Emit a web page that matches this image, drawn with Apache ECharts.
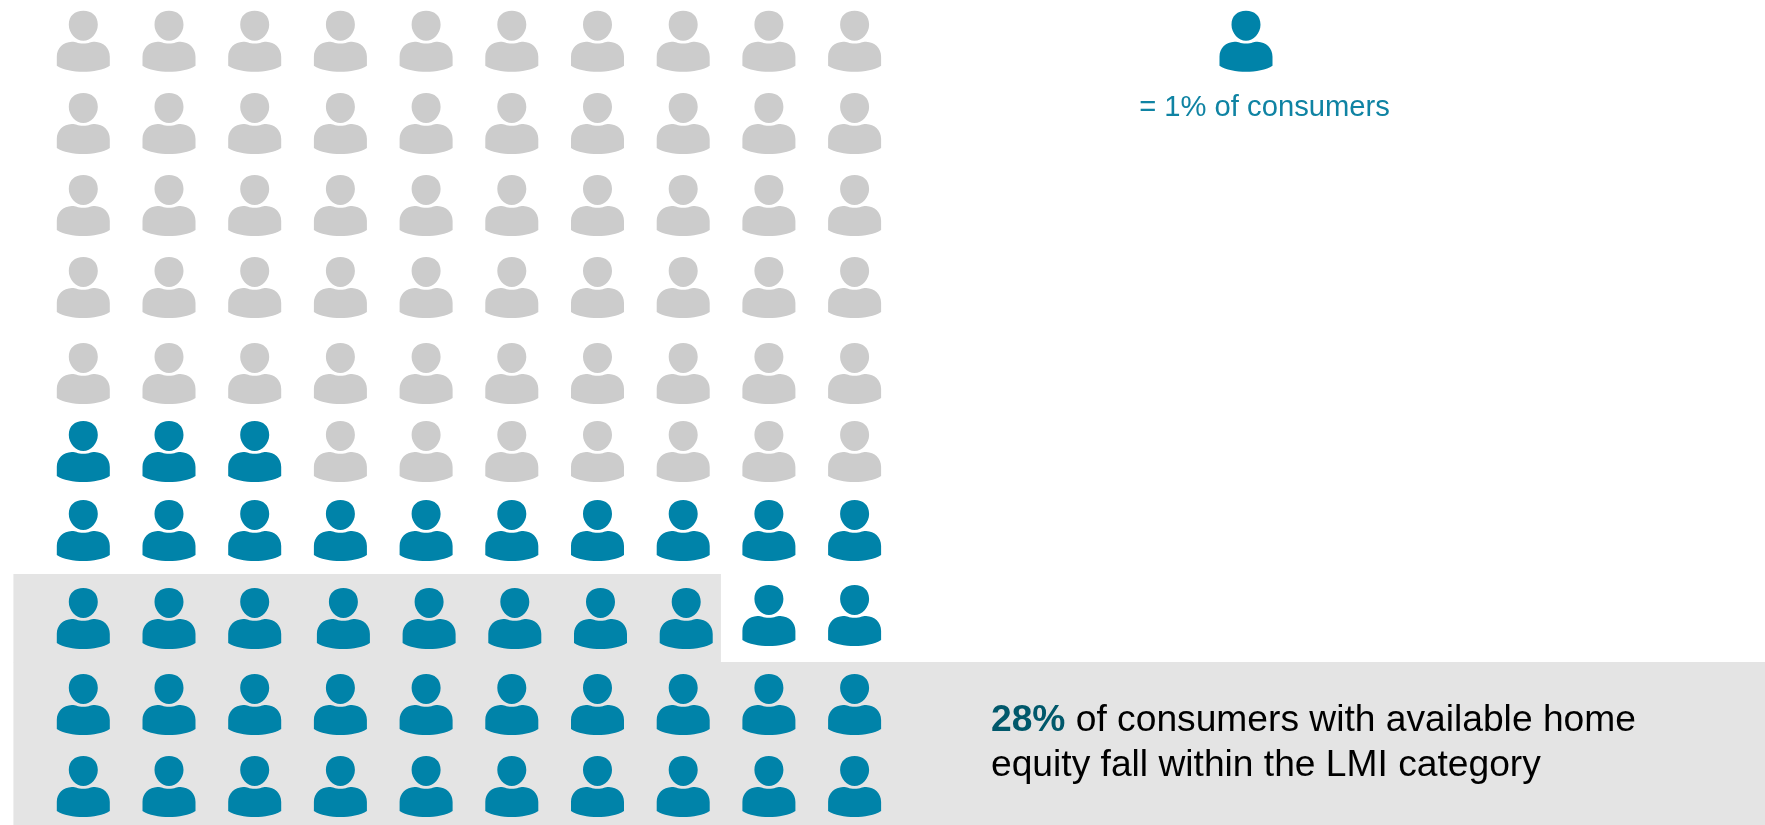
<!DOCTYPE html>
<html>
<head>
<meta charset="utf-8">
<style>html,body{margin:0;padding:0;background:#fff}#chart{width:1765px;height:825px}</style>
<script src="https://cdn.jsdelivr.net/npm/echarts@6/dist/echarts.min.js"></script>
</head>
<body>
<div id="chart"></div>
<script>
// Icons coloured per row, top row first (43 of 100 consumers have available home equity)
const equityPerRow = [0, 0, 0, 0, 0, 3, 10, 10, 10, 10];
// Icons per row that fall within the LMI category (28 of 100)
const lmiPerRow = [0, 0, 0, 0, 0, 0, 0, 8, 10, 10];
const columnCount = 10;
const lmiShare = 28;
const legendText = '= 1% of consumers';
const calloutLines = ['of consumers with available home', 'equity fall within the LMI category'];

const TEAL = '#0083a9', GREY = '#cccccc', BAND = '#e4e4e4';
const FONT = 'Liberation Sans';
const ICON = 'path://M26.5 0C35 0 41 5 41 14C41 22.5 34 30 26.5 30C19 30 12 22.5 12 14C12 5 18 0 26.5 0Z' +
  'M0 46C0 37 6.5 31.4 15 31C17.2 31 18.8 31.1 20 31.8C22.5 33.2 30.5 33.2 33 31.8C34.2 31.1 35.8 31 38 31C46.5 31.4 53 37 53 46L53 55C47 59 36 61 26.5 61C17 61 6 59 0 55Z';
const ICON_SIZE = [53, 61];

// Hand-placed rows are not evenly spaced; these nudges are in pixels
const rowNudge = [0, -0.3, -0.9, -1.5, 1.9, -2.7, -6.3, -0.9, 2.5, 1.9];
function nudgeFor(col, row) {
  if (row !== 7) return [0, rowNudge[row]];
  // The row that straddles the shaded band: the shaded part sits slightly apart
  if (col < 3) return [0, rowNudge[row]];
  return col < 8 ? [3, rowNudge[row]] : [0, rowNudge[row] - 3];
}

const icons = [];
equityPerRow.forEach((count, row) => {
  for (let col = 0; col < columnCount; col++) {
    icons.push({
      value: [col, row],
      symbolOffset: nudgeFor(col, row),
      itemStyle: { color: col < count ? TEAL : GREY, opacity: 1 }
    });
  }
});

const option = {
  animation: false,
  backgroundColor: '#fff',
  grid: { left: 0, right: 0, top: 0, bottom: 0 },
  xAxis: { type: 'value', min: -0.972, max: 19.623, show: false, scale: true },
  yAxis: { type: 'value', min: -0.4988, max: 9.489, inverse: true, show: false, scale: true },
  series: [
    {
      name: 'Consumers',
      type: 'scatter',
      z: 3,
      symbol: ICON,
      symbolSize: ICON_SIZE,
      symbolKeepAspect: false,
      data: icons,
      silent: true,
      markArea: {
        silent: true,
        z: 1,
        itemStyle: { color: BAND, opacity: 1 },
        label: { show: false },
        data: [
          [{ coord: [-0.8156, 6.45] }, { coord: [7.44, 7.52] }],
          [{ coord: [-0.8156, 7.516] }, { coord: [19.623, 9.489] }]
        ]
      }
    },
    {
      name: 'Key',
      type: 'scatter',
      z: 3,
      symbol: ICON,
      symbolSize: ICON_SIZE,
      symbolKeepAspect: false,
      silent: true,
      itemStyle: { color: TEAL, opacity: 1 },
      data: [[13.567, 0]],
      label: {
        show: true,
        position: 'bottom',
        distance: 22,
        offset: [18.5, 0],
        formatter: legendText,
        color: '#0f83a3',
        fontFamily: FONT,
        fontSize: 29.2
      }
    }
  ],
  graphic: [{
    type: 'text',
    z: 5,
    left: 991,
    top: 698.5,
    silent: true,
    style: {
      text: '{b|' + lmiShare + '%} ' + calloutLines[0] + '\n' + calloutLines[1],
      fontFamily: FONT,
      fontSize: 37.2,
      lineHeight: 45,
      fill: '#000',
      rich: {
        b: { fontFamily: FONT, fontWeight: 'bold', fontSize: 37.2, lineHeight: 45, fill: '#00586b' }
      }
    }
  }]
};

echarts.init(document.getElementById('chart'), null, { renderer: 'canvas' }).setOption(option);
</script>
</body>
</html>
